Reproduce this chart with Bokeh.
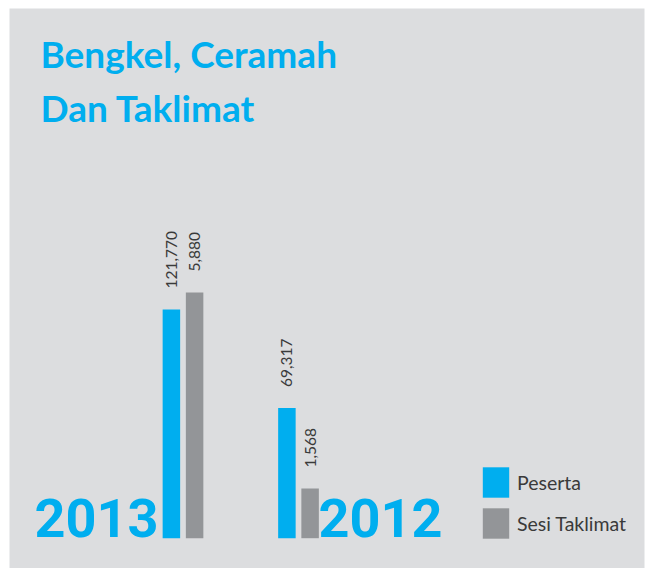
import math
from bokeh.plotting import figure
from bokeh.models import ColumnDataSource, Range1d, Label, Legend, LegendItem
from bokeh.transform import dodge
from bokeh.core.properties import value
from bokeh.embed import file_html
from bokeh.resources import INLINE

# ---- data ----
years = ["2013", "2012"]
peserta = [121770, 69317]
sesi_taklimat = [5880, 1568]
peserta_labels = ["121,770", "69,317"]
sesi_labels = ["5,880", "1,568"]
series_names = ["Peserta", "Sesi Taklimat"]

# ---- style ----
BG = "#dcdddf"
BLUE = "#00aeef"
GRAY = "#939598"
TEXT = "#3a3a3a"
W, H = 648, 568
BL, BR, BT, BB = 9, 4, 8, 0
FW, FH = W - BL - BR, H - BT - BB

# pixel scale parameters (infographic uses independent scales per series)
BASE_PX = 30.3               # baseline distance above frame bottom
BLUE_PX_PER_UNIT = 0.001878
GRAY_PX_PER_UNIT = 0.04545
GRAY_BASE = 474.5            # gray series baseline value
X_PX_PER_UNIT = 115.5
X_LEFT_PX = 173.5            # distance from frame left to first group centre

idx = list(range(len(years)))
src = ColumnDataSource(dict(
    idx=idx, year=years, peserta=peserta, sesi=sesi_taklimat,
    plab=peserta_labels, slab=sesi_labels,
    gbase=[GRAY_BASE] * len(years),
    yalign=["right", "left"], yoff=[-24.5, 20.0],
))

x0 = -X_LEFT_PX / X_PX_PER_UNIT
x_range = Range1d(x0, x0 + FW / X_PX_PER_UNIT)
b0 = -BASE_PX / BLUE_PX_PER_UNIT
y_range = Range1d(b0, b0 + FH / BLUE_PX_PER_UNIT)
g0 = GRAY_BASE - BASE_PX / GRAY_PX_PER_UNIT
gray_range = Range1d(g0, g0 + FH / GRAY_PX_PER_UNIT)

p = figure(width=W, height=H, x_range=x_range, y_range=y_range,
           x_axis_type=None, y_axis_type=None, toolbar_location=None,
           output_backend="svg", min_border_left=BL, min_border_right=BR,
           min_border_top=BT, min_border_bottom=BB)
p.extra_y_ranges = {"gray": gray_range}
p.background_fill_color = BG
p.border_fill_color = "white"
p.outline_line_color = None
p.grid.visible = False

BW = 17.5 / X_PX_PER_UNIT
OFF = 11.6 / X_PX_PER_UNIT

r_blue = p.vbar(x=dodge("idx", -OFF, range=x_range), top="peserta", bottom=0,
                width=BW, source=src, fill_color=BLUE, line_color=None)
r_gray = p.vbar(x=dodge("idx", OFF, range=x_range), top="sesi", bottom="gbase",
                width=BW, source=src, fill_color=GRAY, line_color=None,
                y_range_name="gray")

lab_font = value("Lato")
p.text(x=dodge("idx", -OFF, range=x_range), y="peserta", text="plab", source=src,
       angle=math.pi / 2, text_align="left", text_baseline="middle",
       y_offset=-21, text_font=lab_font, text_font_size="15.5px", text_color=TEXT)
p.text(x=dodge("idx", OFF, range=x_range), y="sesi", text="slab", source=src,
       angle=math.pi / 2, text_align="left", text_baseline="middle",
       y_offset=-21, text_font=lab_font, text_font_size="15.5px", text_color=TEXT,
       y_range_name="gray")

# year labels
p.text(x="idx", y=0, text="year", source=src, text_align="yalign",
       x_offset="yoff", y_offset=-20, text_baseline="alphabetic",
       text_font=value("Roboto"), text_font_style="bold",
       text_font_size="54px", text_color=BLUE)

# title
for txt, yy in [("Bengkel, Ceramah", 515), ("Dan Taklimat", 461)]:
    p.add_layout(Label(x=31, y=yy, x_units="screen", y_units="screen", text=txt,
                       text_font="Lato", text_font_style="bold",
                       text_font_size="37px", text_color=BLUE,
                       text_baseline="alphabetic"))

legend = Legend(items=[LegendItem(label=series_names[0], renderers=[r_blue]),
                       LegendItem(label=series_names[1], renderers=[r_gray])],
                location=(470, 26), orientation="vertical",
                glyph_width=33, glyph_height=38, spacing=3, label_standoff=5,
                padding=0, margin=0, background_fill_alpha=0,
                border_line_alpha=0, label_text_font="Lato",
                label_text_font_size="19.5px", label_text_color=TEXT,
                label_text_baseline="middle")
p.add_layout(legend)

open("out.html", "w").write(file_html(p, INLINE))
